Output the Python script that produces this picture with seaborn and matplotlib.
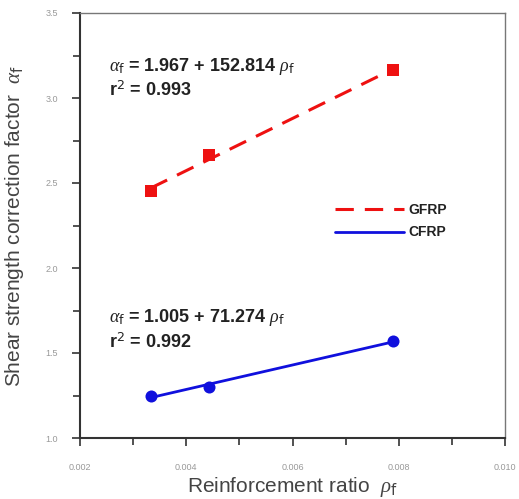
import matplotlib
matplotlib.use("Agg")
import matplotlib.pyplot as plt
from matplotlib.ticker import MultipleLocator
import pandas as pd
import seaborn as sns

# data
ratio = [0.00333, 0.00443, 0.0079]
gfrp = [2.45, 2.665, 3.165]
cfrp = [1.25, 1.30, 1.57]
eq_gfrp = ["1.967", "152.814", "0.993"]
eq_cfrp = ["1.005", "71.274", "0.992"]

df = pd.DataFrame({"ratio": ratio * 2,
                   "alpha": gfrp + cfrp,
                   "type": ["GFRP"] * 3 + ["CFRP"] * 3})

sns.set_style("white")
plt.rcParams["font.family"] = ["Liberation Sans", "DejaVu Sans"]
plt.rcParams["mathtext.fontset"] = "custom"
plt.rcParams["mathtext.it"] = "Liberation Serif:italic"

fig = plt.figure(figsize=(5.19, 4.99), dpi=100)
ax = fig.add_axes([80 / 519, 1 - 438 / 499, 425 / 519, 425 / 499])

red = "#ee1111"
blue = "#1010dd"

g = df[df["type"] == "GFRP"]
c = df[df["type"] == "CFRP"]
sns.regplot(data=g, x="ratio", y="alpha", ax=ax, ci=None, truncate=True,
            color=red, marker="s",
            scatter_kws={"s": 70, "zorder": 3, "alpha": 1, "linewidths": 0},
            line_kws={"lw": 2.2, "ls": (0, (6, 3.6)), "label": "GFRP"})
sns.regplot(data=c, x="ratio", y="alpha", ax=ax, ci=None, truncate=True,
            color=blue, marker="o",
            scatter_kws={"s": 75, "zorder": 3, "alpha": 1, "linewidths": 0},
            line_kws={"lw": 2.0, "label": "CFRP"})

ax.set_xlim(0.002, 0.010)
ax.set_ylim(1.0, 3.5)
ax.xaxis.set_major_locator(MultipleLocator(0.002))
ax.xaxis.set_minor_locator(MultipleLocator(0.001))
ax.yaxis.set_major_locator(MultipleLocator(0.5))
ax.yaxis.set_minor_locator(MultipleLocator(0.25))
ax.xaxis.set_major_formatter(lambda v, p: f"{v:.3f}")
ax.yaxis.set_major_formatter(lambda v, p: f"{v:.1f}")
ax.tick_params(which="both", direction="out", color="#333333", width=1.2,
               labelsize=6.5, labelcolor="#999999", bottom=True, left=True)
ax.tick_params(which="major", length=6, pad=12)
ax.tick_params(axis="y", which="major", pad=10)
ax.tick_params(which="minor", length=5)
for s in ["left", "bottom"]:
    ax.spines[s].set_color("#333333")
    ax.spines[s].set_linewidth(1.5)
for s in ["top", "right"]:
    ax.spines[s].set_color("#777777")
    ax.spines[s].set_linewidth(1.0)

ax.set_xlabel(r"Reinforcement ratio  $\rho_{\rm f}$", fontsize=15, color="#444444",
              labelpad=2)
ax.set_ylabel(r"Shear strength correction factor  $\alpha_{\rm f}$", fontsize=15,
              color="#444444", labelpad=14)

kw = dict(fontsize=13, fontweight="bold", color="#222222")
ax.text(0.00255, 3.16, rf"$\alpha_{{\rm f}}$ = {eq_gfrp[0]} + {eq_gfrp[1]} $\rho_{{\rm f}}$", **kw)
ax.text(0.00255, 3.01, rf"r$^2$ = {eq_gfrp[2]}", **kw)
ax.text(0.00255, 1.68, rf"$\alpha_{{\rm f}}$ = {eq_cfrp[0]} + {eq_cfrp[1]} $\rho_{{\rm f}}$", **kw)
ax.text(0.00255, 1.53, rf"r$^2$ = {eq_cfrp[2]}", **kw)

leg = ax.legend(loc="center left", bbox_to_anchor=(0.57, 0.51), frameon=False,
                handlelength=5.0, fontsize=10, handletextpad=0.3, labelspacing=0.6)
for t in leg.get_texts():
    t.set_fontweight("bold")
    t.set_color("#222222")

fig.savefig("out.png", dpi=100)
